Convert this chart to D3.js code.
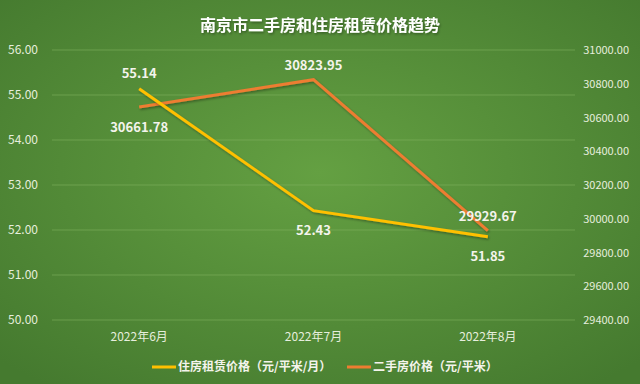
<!DOCTYPE html>
<html>
<head>
<meta charset="utf-8">
<script src="https://cdn.jsdelivr.net/npm/d3@7"></script>
<style>
  body { margin: 0; background: #4f8636; }
  svg text { font-family: "Noto Sans CJK SC", "Noto Sans", sans-serif; }
</style>
</head>
<body>
<div id="chart"></div>
<script>
// data
const months = ['2022年6月', '2022年7月', '2022年8月'];
const rentValues = [55.14, 52.43, 51.85];
const priceValues = [30661.78, 30823.95, 29929.67];
const leftTicks = [50, 51, 52, 53, 54, 55, 56];
const rightTicks = [29400, 29600, 29800, 30000, 30200, 30400, 30600, 30800, 31000];
const titleText = '南京市二手房和住房租赁价格趋势';
const rentName = '住房租赁价格（元/平米/月）';
const priceName = '二手房价格（元/平米）';

const width = 640, height = 384;
const margin = { left: 52, right: 65, top: 50, bottom: 64 };

const svg = d3.select('#chart').append('svg')
  .attr('width', width)
  .attr('height', height);

// background gradient
const defs = svg.append('defs');
const grad = defs.append('radialGradient')
  .attr('id', 'bg')
  .attr('cx', '50%').attr('cy', '45%').attr('r', '70%');
grad.append('stop').attr('offset', '0%').attr('stop-color', '#64a042');
grad.append('stop').attr('offset', '100%').attr('stop-color', '#457a2f');

const shadow = defs.append('filter').attr('id', 'shadow')
  .attr('x', '-10%').attr('y', '-10%').attr('width', '120%').attr('height', '130%');
shadow.append('feDropShadow')
  .attr('dx', 1).attr('dy', 1.5).attr('stdDeviation', 1)
  .attr('flood-color', '#000').attr('flood-opacity', 0.35);

svg.append('rect')
  .attr('width', width).attr('height', height)
  .attr('fill', 'url(#bg)');

const xScale = d3.scaleBand()
  .domain(months)
  .range([margin.left, width - margin.right]);
const yLeft = d3.scaleLinear()
  .domain([50, 56])
  .range([height - margin.bottom, margin.top]);
const yRight = d3.scaleLinear()
  .domain([29400, 31000])
  .range([height - margin.bottom, margin.top]);

// gridlines
svg.append('g')
  .selectAll('line')
  .data(leftTicks)
  .join('line')
  .attr('x1', margin.left)
  .attr('x2', width - margin.right)
  .attr('y1', d => yLeft(d))
  .attr('y2', d => yLeft(d))
  .attr('stroke', '#7fb25f')
  .attr('stroke-opacity', 0.6)
  .attr('stroke-width', 1);

// left axis
const leftAxis = svg.append('g')
  .attr('transform', `translate(${margin.left}, 0)`)
  .call(d3.axisLeft(yLeft).tickValues(leftTicks).tickFormat(d3.format('.2f')).tickSize(0).tickPadding(14));
leftAxis.select('.domain').remove();
leftAxis.selectAll('text')
  .attr('fill', '#e6eedd')
  .attr('font-size', 12);

// right axis
const rightAxis = svg.append('g')
  .attr('transform', `translate(${width - 11}, 0)`)
  .call(d3.axisLeft(yRight).tickValues(rightTicks).tickFormat(d3.format('.2f')).tickSize(0).tickPadding(0));
rightAxis.select('.domain').remove();
rightAxis.selectAll('text')
  .attr('fill', '#e6eedd')
  .attr('font-size', 11);

// category axis
const xAxis = svg.append('g')
  .attr('transform', `translate(0, ${height - margin.bottom})`)
  .call(d3.axisBottom(xScale).tickSize(0).tickPadding(12));
xAxis.select('.domain').remove();
xAxis.selectAll('text')
  .attr('fill', '#e6eedd')
  .attr('font-size', 12);

const cx = d => xScale(d) + xScale.bandwidth() / 2;

// lines
const rentLine = d3.line()
  .x((d, i) => cx(months[i]))
  .y(d => yLeft(d));
const priceLine = d3.line()
  .x((d, i) => cx(months[i]))
  .y(d => yRight(d));

svg.append('path')
  .datum(priceValues)
  .attr('fill', 'none')
  .attr('stroke', '#ed7d31')
  .attr('stroke-width', 3)
  .attr('filter', 'url(#shadow)')
  .attr('d', priceLine);

svg.append('path')
  .datum(rentValues)
  .attr('fill', 'none')
  .attr('stroke', '#ffc000')
  .attr('stroke-width', 3)
  .attr('filter', 'url(#shadow)')
  .attr('d', rentLine);

// data labels
const rentLabelOffsets = [-15, 20, 20];
const priceLabelOffsets = [20, -14, -14];

svg.append('g')
  .selectAll('text')
  .data(rentValues)
  .join('text')
  .attr('x', (d, i) => cx(months[i]))
  .attr('y', (d, i) => yLeft(d) + rentLabelOffsets[i])
  .attr('dy', '0.35em')
  .attr('text-anchor', 'middle')
  .attr('font-size', 13)
  .attr('font-weight', 'bold')
  .attr('fill', '#f4f4ec')
  .text(d => d.toFixed(2));

svg.append('g')
  .selectAll('text')
  .data(priceValues)
  .join('text')
  .attr('x', (d, i) => cx(months[i]))
  .attr('y', (d, i) => yRight(d) + priceLabelOffsets[i])
  .attr('dy', '0.35em')
  .attr('text-anchor', 'middle')
  .attr('font-size', 13)
  .attr('font-weight', 'bold')
  .attr('fill', '#f4f4ec')
  .text(d => d.toFixed(2));

// title
svg.append('text')
  .attr('x', 320)
  .attr('y', 31)
  .attr('text-anchor', 'middle')
  .attr('font-size', 16)
  .attr('font-weight', 'bold')
  .attr('fill', '#ffffff')
  .attr('filter', 'url(#shadow)')
  .text(titleText);

// legend
const legendItems = [
  { name: rentName, color: '#ffc000', x: 152 },
  { name: priceName, color: '#ed7d31', x: 347 }
];
const legend = svg.append('g');
legendItems.forEach(item => {
  legend.append('line')
    .attr('x1', item.x).attr('x2', item.x + 24)
    .attr('y1', 367).attr('y2', 367)
    .attr('stroke', item.color)
    .attr('stroke-width', 3);
  legend.append('text')
    .attr('x', item.x + 26)
    .attr('y', 367)
    .attr('dy', '0.35em')
    .attr('font-size', 12)
    .attr('font-weight', 'bold')
    .attr('fill', '#f4f4ec')
    .text(item.name);
});
</script>
</body>
</html>
